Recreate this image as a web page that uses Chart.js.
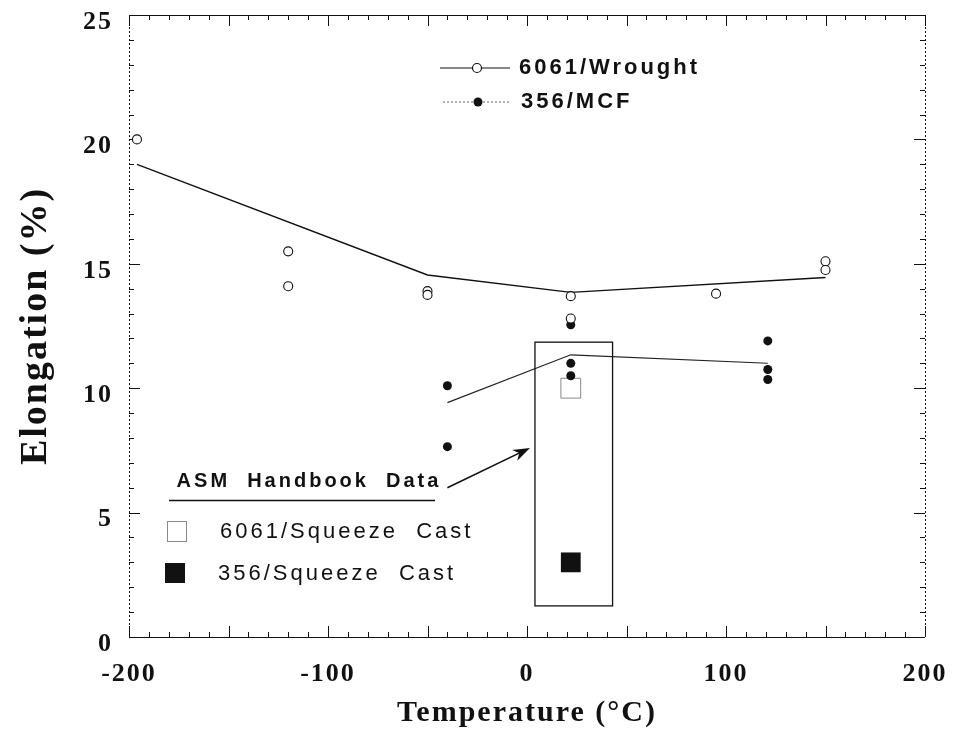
<!DOCTYPE html>
<html>
<head>
<meta charset="utf-8">
<script src="https://cdn.jsdelivr.net/npm/chart.js"></script>
<style>
  html, body { margin: 0; padding: 0; background: #fff; }
</style>
</head>
<body>
<canvas id="elongChart" width="953" height="749"></canvas>
<script>
// 6061/Wrought measurements (open circles)
const wroughtTemp  = [-196, -120, -120, -50, -50, 22, 22, 95, 150, 150];
const wroughtElong = [20.0, 15.5, 14.1, 13.9, 13.75, 13.7, 12.8, 13.8, 15.1, 14.75];
// 6061/Wrought trend line
const wroughtLineTemp  = [-196, -50, 22, 150];
const wroughtLineElong = [19.0, 14.55, 13.85, 14.45];

// 356/MCF measurements (filled circles)
const mcfTemp  = [-40, -40, 22, 22, 22, 121, 121, 121];
const mcfElong = [10.1, 7.65, 12.55, 11.0, 10.5, 11.9, 10.75, 10.35];
// 356/MCF trend line
const mcfLineTemp  = [-40, 22, 121];
const mcfLineElong = [9.42, 11.34, 11.0];

// ASM Handbook data (room temperature)
const asmLabels = ['6061/Squeeze  Cast', '356/Squeeze  Cast'];
const asmTemp   = [22, 22];
const asmElong  = [10.0, 3.0];

// highlight box around the ASM values and the arrow pointing to it
const boxTemp  = [4, 43];
const boxElong = [1.25, 11.85];
const arrowTemp  = [-40, 1.5];
const arrowElong = [6.0, 7.6];

const xTicks = [-200, -100, 0, 100, 200];
const yTicks = [0, 5, 10, 15, 20, 25];

const seriesNames = ['6061/Wrought', '356/MCF'];

function pts(xs, ys) {
  return xs.map((x, i) => ({ x: x, y: ys[i] }));
}

const INK = '#111';
const serif = '"Liberation Serif", "Times New Roman", serif';
const sans = '"Liberation Sans", Arial, sans-serif';

// frame, inward ticks, legends, box and arrow
const decor = {
  id: 'decor',
  beforeDraw(chart) {
    chart.ctx.letterSpacing = '2px';
  },
  beforeDatasetsDraw(chart) {
    const ctx = chart.ctx;
    const { left, right, top, bottom } = chart.chartArea;
    const xs = chart.scales.x, ys = chart.scales.y;
    ctx.save();
    ctx.letterSpacing = '0px';
    ctx.strokeStyle = INK;
    ctx.lineWidth = 1;
    // top + bottom solid
    ctx.beginPath();
    ctx.moveTo(left, top + 0.5); ctx.lineTo(right, top + 0.5);
    ctx.moveTo(left, bottom + 0.5); ctx.lineTo(right, bottom + 0.5);
    ctx.stroke();
    // left + right dotted
    ctx.setLineDash([2, 2]);
    ctx.beginPath();
    ctx.moveTo(left + 0.5, top); ctx.lineTo(left + 0.5, bottom);
    ctx.moveTo(right + 0.5, top); ctx.lineTo(right + 0.5, bottom);
    ctx.stroke();
    ctx.setLineDash([]);
    // ticks
    ctx.beginPath();
    for (let v = -200; v <= 200; v += 10) {
      const px = Math.round(xs.getPixelForValue(v)) + 0.5;
      const len = v % 50 === 0 ? 11 : 5;
      ctx.moveTo(px, bottom); ctx.lineTo(px, bottom - len);
      ctx.moveTo(px, top); ctx.lineTo(px, top + len);
    }
    for (let v = 0; v <= 25; v += 1) {
      const py = Math.round(ys.getPixelForValue(v)) + 0.5;
      const len = v % 5 === 0 ? 11 : 5;
      ctx.moveTo(left, py); ctx.lineTo(left + len, py);
      ctx.moveTo(right, py); ctx.lineTo(right - len, py);
    }
    ctx.stroke();
    ctx.restore();
  },
  afterDatasetsDraw(chart) {
    const ctx = chart.ctx;
    const xs = chart.scales.x, ys = chart.scales.y;
    ctx.save();
    ctx.strokeStyle = INK;
    ctx.fillStyle = INK;

    // box
    const bx1 = xs.getPixelForValue(boxTemp[0]), bx2 = xs.getPixelForValue(boxTemp[1]);
    const by1 = ys.getPixelForValue(boxElong[1]), by2 = ys.getPixelForValue(boxElong[0]);
    ctx.lineWidth = 1.3;
    ctx.strokeRect(bx1, by1, bx2 - bx1, by2 - by1);

    // arrow
    const ax1 = xs.getPixelForValue(arrowTemp[0]), ay1 = ys.getPixelForValue(arrowElong[0]);
    const ax2 = xs.getPixelForValue(arrowTemp[1]), ay2 = ys.getPixelForValue(arrowElong[1]);
    const a = Math.atan2(ay2 - ay1, ax2 - ax1);
    const hl = 17, hw = 6;
    ctx.lineWidth = 1.6;
    ctx.beginPath();
    ctx.moveTo(ax1, ay1);
    ctx.lineTo(ax2 - 8 * Math.cos(a), ay2 - 8 * Math.sin(a));
    ctx.stroke();
    ctx.beginPath();
    ctx.moveTo(ax2, ay2);
    ctx.lineTo(ax2 - hl * Math.cos(a) + hw * Math.sin(a), ay2 - hl * Math.sin(a) - hw * Math.cos(a));
    ctx.lineTo(ax2 - 0.7 * hl * Math.cos(a), ay2 - 0.7 * hl * Math.sin(a));
    ctx.lineTo(ax2 - hl * Math.cos(a) - hw * Math.sin(a), ay2 - hl * Math.sin(a) + hw * Math.cos(a));
    ctx.closePath();
    ctx.fill();

    // top legend
    ctx.textBaseline = 'middle';
    ctx.textAlign = 'left';
    ctx.font = 'bold 22px ' + sans;
    ctx.letterSpacing = '3px';
    ctx.lineWidth = 1.2;
    ctx.beginPath();
    ctx.moveTo(440, 68); ctx.lineTo(510, 68);
    ctx.stroke();
    ctx.beginPath();
    ctx.arc(477, 68, 4.5, 0, Math.PI * 2);
    ctx.fillStyle = '#fff'; ctx.fill();
    ctx.stroke();
    ctx.fillStyle = INK;
    ctx.fillText(seriesNames[0], 519, 68);

    ctx.setLineDash([2, 2]);
    ctx.lineWidth = 1;
    ctx.strokeStyle = '#666';
    ctx.beginPath();
    ctx.moveTo(443, 102); ctx.lineTo(510, 102);
    ctx.stroke();
    ctx.setLineDash([]);
    ctx.strokeStyle = INK;
    ctx.beginPath();
    ctx.arc(478, 102, 4.5, 0, Math.PI * 2);
    ctx.fill();
    ctx.fillText(seriesNames[1], 521, 102);

    // ASM legend block
    ctx.font = 'bold 20px ' + sans;
    ctx.textAlign = 'center';
    ctx.fillText('ASM  Handbook  Data', 309, 481);
    ctx.lineWidth = 1.4;
    ctx.beginPath();
    ctx.moveTo(169, 500.5); ctx.lineTo(435, 500.5);
    ctx.stroke();

    ctx.font = '22px ' + sans;
    ctx.textAlign = 'left';
    ctx.fillText(asmLabels[0], 220, 532);
    ctx.fillText(asmLabels[1], 218, 574);
    ctx.lineWidth = 1;
    ctx.strokeStyle = '#888';
    ctx.strokeRect(167.5, 521.5, 19, 20);
    ctx.fillRect(165, 563, 20, 20);
    ctx.restore();
  }
};

new Chart(document.getElementById('elongChart'), {
  type: 'scatter',
  data: {
    datasets: [
      {
        label: seriesNames[0],
        data: pts(wroughtTemp, wroughtElong),
        showLine: false,
        pointStyle: 'circle',
        pointRadius: 4.5,
        pointBorderWidth: 1.1,
        pointBorderColor: INK,
        pointBackgroundColor: '#fff'
      },
      {
        label: seriesNames[0] + ' fit',
        data: pts(wroughtLineTemp, wroughtLineElong),
        showLine: true,
        pointRadius: 0,
        borderColor: INK,
        borderWidth: 1.4
      },
      {
        label: seriesNames[1],
        data: pts(mcfTemp, mcfElong),
        showLine: false,
        pointStyle: 'circle',
        pointRadius: 4.5,
        pointBorderWidth: 0,
        pointBackgroundColor: INK
      },
      {
        label: seriesNames[1] + ' fit',
        data: pts(mcfLineTemp, mcfLineElong),
        showLine: true,
        pointRadius: 0,
        borderColor: '#222',
        borderWidth: 1.1
      },
      {
        label: asmLabels[0],
        data: [{ x: asmTemp[0], y: asmElong[0] }],
        pointStyle: 'rect',
        pointRadius: 14,
        pointBorderWidth: 1,
        pointBorderColor: '#888',
        pointBackgroundColor: 'rgba(255,255,255,0)'
      },
      {
        label: asmLabels[1],
        data: [{ x: asmTemp[1], y: asmElong[1] }],
        pointStyle: 'rect',
        pointRadius: 14,
        pointBorderWidth: 0,
        pointBackgroundColor: INK
      }
    ]
  },
  options: {
    responsive: false,
    animation: false,
    layout: { padding: { top: 14, right: 28, left: 0, bottom: 0 } },
    plugins: { legend: { display: false }, tooltip: { enabled: false } },
    scales: {
      x: {
        type: 'linear',
        min: -200, max: 200,
        afterBuildTicks: s => { s.ticks = xTicks.map(v => ({ value: v })); },
        afterFit: s => { s.height = 112; s.paddingLeft = 0; s.paddingRight = 0; },
        grid: { display: false, drawTicks: false },
        border: { display: false },
        ticks: {
          padding: 22,
          color: INK,
          maxRotation: 0,
          font: { family: serif, size: 26, weight: 'bold' }
        },
        title: {
          display: true,
          text: 'Temperature (°C)',
          color: INK,
          font: { family: serif, size: 30, weight: 'bold' },
          padding: { top: 0, bottom: 18 }
        }
      },
      y: {
        type: 'linear',
        min: 0, max: 25,
        afterBuildTicks: s => { s.ticks = yTicks.map(v => ({ value: v })); },
        afterFit: s => { s.width = 129; s.paddingTop = 0; s.paddingBottom = 0; },
        grid: { display: false, drawTicks: false },
        border: { display: false },
        ticks: {
          padding: 16,
          labelOffset: 7,
          color: INK,
          font: { family: serif, size: 26, weight: 'bold' }
        },
        title: {
          display: true,
          text: 'Elongation (%)',
          color: INK,
          font: { family: serif, size: 38, weight: 'bold' },
          padding: { top: 13, bottom: 0 }
        }
      }
    }
  },
  plugins: [decor]
});
</script>
</body>
</html>
